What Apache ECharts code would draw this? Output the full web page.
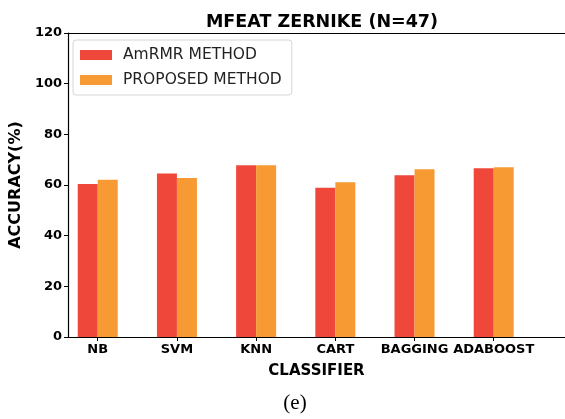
<!DOCTYPE html>
<html>
<head>
<meta charset="utf-8">
<script src="https://cdn.jsdelivr.net/npm/echarts@6/dist/echarts.min.js"></script>
<style>html,body{margin:0;padding:0;background:#fff}#c{width:565px;height:419px}</style>
</head>
<body>
<div id="c"></div>
<script>
const categories = ['NB', 'SVM', 'KNN', 'CART', 'BAGGING', 'ADABOOST'];
const amrmr = [60.4, 64.5, 67.8, 58.9, 63.8, 66.6];
const proposed = [62.1, 62.8, 67.8, 61.1, 66.2, 67.0];
const yTicks = [0, 20, 40, 60, 80, 100, 120];

const idx = categories.map((_, i) => i);
const font = 'DejaVu Sans';
const xMin = -0.375, xMax = 5.9;
const chart = echarts.init(document.getElementById('c'));
chart.setOption({
  animation: false,
  backgroundColor: '#fff',
  title: [
    { text: 'MFEAT ZERNIKE (N=47)', left: 317, top: 8, textAlign: 'center',
      textStyle: { fontFamily: font, fontWeight: 'bold', fontSize: 17.5, color: '#000' } },
    { text: '(e)', left: 290, top: 388, textAlign: 'center',
      textStyle: { fontFamily: 'Liberation Serif', fontWeight: 'normal', fontSize: 21, color: '#000' } }
  ],
  legend: {
    orient: 'vertical', left: 73, top: 40,
    itemWidth: 32, itemHeight: 10, itemGap: 9,
    padding: [7, 10, 7, 7],
    backgroundColor: '#fff', borderColor: '#d6d6d6', borderWidth: 1, borderRadius: 3,
    icon: 'rect',
    textStyle: { fontFamily: font, fontSize: 15.5, color: '#222', padding: [0, 0, 0, 6] },
    data: ['AmRMR METHOD', 'PROPOSED METHOD']
  },
  grid: { left: 66, right: -3, top: 33, bottom: 82 },
  xAxis: [{
    type: 'value', min: xMin, max: xMax,
    name: 'CLASSIFIER', nameLocation: 'middle', nameGap: 27,
    nameTextStyle: { fontFamily: font, fontWeight: 'bold', fontSize: 15, color: '#000' },
    splitLine: { show: false },
    axisLine: { show: true, onZero: false, lineStyle: { color: '#000', width: 1.2 } },
    axisTick: { show: true, length: 4, customValues: idx, lineStyle: { color: '#000' } },
    axisLabel: { customValues: idx, margin: 6, formatter: v => categories[Math.round(v)] || '',
      fontFamily: font, fontWeight: 'bold', fontSize: 13, color: '#000' }
  }, {
    type: 'value', position: 'top', min: xMin, max: xMax,
    splitLine: { show: false }, axisTick: { show: false }, axisLabel: { show: false },
    axisLine: { show: true, onZero: false, lineStyle: { color: '#000', width: 1.2 } }
  }],
  yAxis: {
    type: 'value', min: yTicks[0], max: yTicks[yTicks.length - 1], interval: 20,
    name: 'ACCURACY(%)', nameLocation: 'middle', nameGap: 42,
    nameTextStyle: { fontFamily: font, fontWeight: 'bold', fontSize: 16, color: '#000' },
    splitLine: { show: false },
    axisLine: { show: true, onZero: false, lineStyle: { color: '#000', width: 1.2 } },
    axisTick: { show: true, length: 4, lineStyle: { color: '#000' } },
    axisLabel: { margin: 6, fontFamily: font, fontWeight: 'bold', fontSize: 13, color: '#000' }
  },
  series: [
    { name: 'AmRMR METHOD', type: 'bar', barWidth: 20, barGap: '0%',
      itemStyle: { color: '#EF483B' },
      data: idx.map(i => [i, amrmr[i]]) },
    { name: 'PROPOSED METHOD', type: 'bar', barWidth: 20, barGap: '0%',
      itemStyle: { color: '#F79A34' },
      data: idx.map(i => [i, proposed[i]]) }
  ]
});
</script>
</body>
</html>
